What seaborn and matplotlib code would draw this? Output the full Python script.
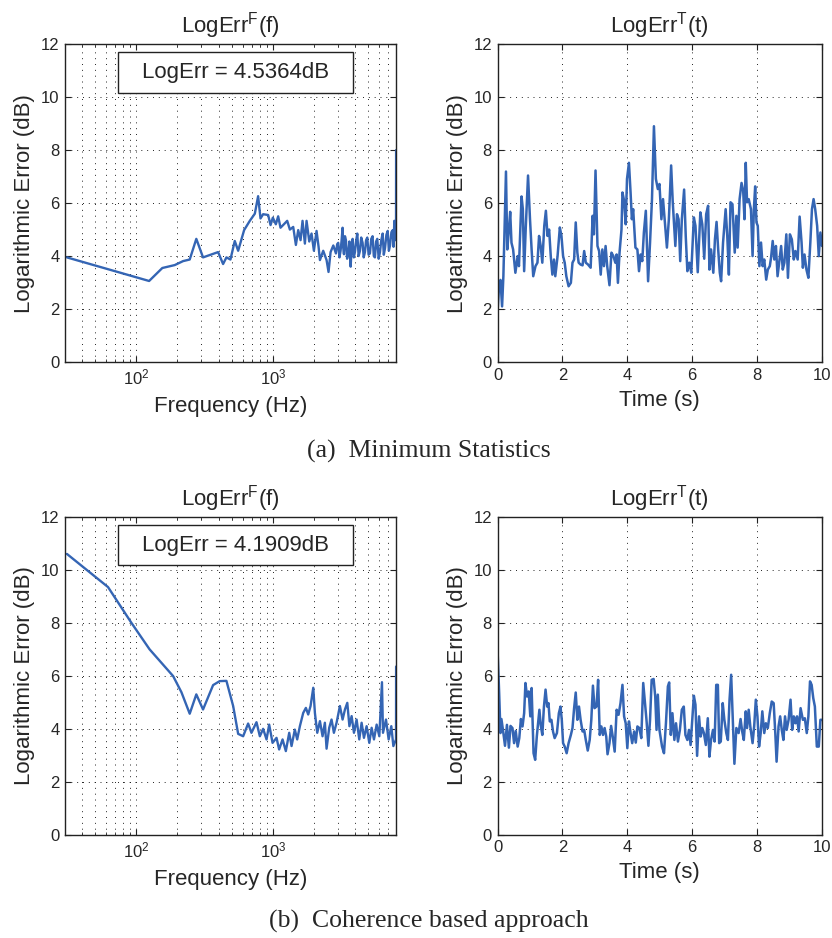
import matplotlib
matplotlib.use("Agg")
import matplotlib.pyplot as plt
import seaborn as sns
import pandas as pd
from matplotlib.patches import Rectangle
from matplotlib.ticker import LogLocator, NullFormatter, MultipleLocator

sns.set_theme(style="white")
plt.rcParams["font.family"] = ["Liberation Sans", "DejaVu Sans"]
plt.rcParams["mathtext.fontset"] = "custom"
plt.rcParams["mathtext.rm"] = "Liberation Sans"
plt.rcParams["mathtext.it"] = "Liberation Sans:italic"
plt.rcParams["mathtext.bf"] = "Liberation Sans:bold"

# (a) Minimum Statistics - LogErr^F(f)
freq_a = [31, 124, 155, 191, 220, 246, 275, 308, 397, 432,
          457, 489, 526, 557, 616, 678, 738, 780, 812, 849,
          924, 962, 1000, 1052, 1094, 1138, 1205, 1274, 1333, 1410,
          1475, 1534, 1596, 1650, 1717, 1766, 1848, 1921, 1999, 2090,
          2163, 2213, 2339, 2475, 2558, 2648, 2773,
          2898, 2960, 3014, 3075, 3135, 3190, 3243, 3280, 3319, 3375,
          3431, 3500, 3571, 3640, 3715, 3780, 3841, 3920, 3994, 4070,
          4155, 4250, 4346, 4440, 4545, 4630, 4729, 4820, 4920, 5030,
          5144, 5260, 5379, 5490, 5597, 5710, 5823, 5960, 6093, 6230,
          6376, 6500, 6634, 6790, 6942, 7080, 7220, 7390, 7554, 7660,
          7762, 7900, 7990, 8000]
err_fa = [3.95, 3.06, 3.55, 3.66, 3.81, 3.87, 4.65, 3.95, 4.15, 3.70,
          3.95, 3.87, 4.57, 4.20, 4.98, 5.33, 5.60, 6.26, 5.42, 5.58,
          5.55, 5.17, 5.45, 5.20, 5.50, 5.07, 5.20, 5.33, 5.00, 5.10,
          4.42, 4.98, 4.60, 5.33, 4.47, 5.33, 4.55, 4.85, 4.20, 4.95,
          4.35, 3.85, 4.20, 3.85, 3.40, 4.15, 4.40,
          4.10, 4.45, 4.50, 3.95, 4.20, 4.60, 5.07, 4.30, 4.07, 4.75,
          4.60, 3.90, 4.10, 4.55, 3.60, 4.35, 4.65, 3.95, 4.15, 4.55,
          4.85, 4.00, 4.20, 4.70, 4.50, 3.95, 4.15, 4.60, 4.70, 4.05,
          4.10, 4.65, 4.75, 4.00, 3.95, 4.55, 4.65, 3.90, 4.15, 4.60,
          4.85, 4.05, 4.30, 4.80, 4.95, 4.20, 4.40, 4.90, 4.98, 4.35,
          5.33, 4.60, 5.40, 8.00]

# (a) Minimum Statistics - LogErr^T(t)
time_a = [0, 0.04, 0.09, 0.14, 0.18, 0.26, 0.30, 0.35, 0.39, 0.43,
          0.48, 0.55, 0.62, 0.66, 0.74, 0.78, 0.82, 0.87, 0.94, 1.0,
          1.05, 1.10, 1.17, 1.23, 1.28, 1.33, 1.38, 1.44, 1.49, 1.54,
          1.59, 1.64, 1.69, 1.74, 1.78, 1.85, 1.92, 1.97, 2.02, 2.07,
          2.12, 2.19, 2.26, 2.31, 2.36, 2.41, 2.46, 2.50, 2.56, 2.62,
          2.67, 2.72, 2.79, 2.87, 2.93, 2.97, 3.02, 3.08, 3.13, 3.18,
          3.23, 3.28, 3.33, 3.38, 3.45, 3.51, 3.57, 3.63, 3.67, 3.71,
          3.76, 3.82, 3.85, 3.90, 3.95, 3.99, 4.05, 4.10, 4.14, 4.18,
          4.25, 4.31, 4.36, 4.41, 4.46, 4.51, 4.57, 4.64, 4.70, 4.76,
          4.82, 4.88, 4.94, 4.99, 5.05, 5.10, 5.15, 5.22, 5.28, 5.35,
          5.40, 5.48, 5.53, 5.58, 5.63, 5.68, 5.75, 5.80, 5.85, 5.91,
          5.97, 6.05, 6.10, 6.17, 6.25, 6.31, 6.37, 6.43, 6.49, 6.53,
          6.58, 6.65, 6.70, 6.75, 6.80, 6.85, 6.89, 6.95, 7.03, 7.08,
          7.13, 7.18, 7.24, 7.31, 7.36, 7.40, 7.46, 7.52, 7.57, 7.61,
          7.65, 7.69, 7.74, 7.81, 7.86, 7.90, 7.94, 7.98, 8.02, 8.07,
          8.12, 8.17, 8.22, 8.28, 8.33, 8.39, 8.43, 8.48, 8.53, 8.58,
          8.63, 8.69, 8.74, 8.79, 8.84, 8.90, 8.95, 9.01, 9.07, 9.13,
          9.18, 9.25, 9.31, 9.37, 9.41, 9.46, 9.52, 9.58, 9.64, 9.69,
          9.74, 9.79, 9.85, 9.90, 9.95, 10.0]
err_ta = [1.9, 2.73, 3.1, 2.1, 3.24, 7.19, 4.25, 5.0, 5.67, 4.5,
          4.25, 3.37, 4.0, 3.62, 6.25, 5.77, 3.43, 5.08, 7.04, 5.4,
          4.25, 3.24, 3.62, 3.75, 4.76, 4.38, 3.75, 5.14, 5.71, 4.76,
          5.0, 4.0, 3.3, 3.87, 3.24, 4.0, 5.08, 4.76, 4.0, 3.75,
          3.24, 2.86, 2.99, 3.75, 3.87, 5.27, 4.13, 3.75, 3.68, 3.65,
          4.19, 3.75, 3.68, 3.56, 5.52, 4.82, 7.23, 4.38, 4.19, 3.3,
          4.25, 3.62, 4.38, 3.62, 2.9, 4.13, 4.0, 3.75, 4.06, 2.99,
          4.13, 5.0, 6.4, 6.09, 5.2, 6.91, 7.52, 6.4, 5.39, 5.77,
          4.32, 4.25, 3.43, 4.06, 3.81, 4.89, 5.71, 3.05, 4.51, 6.15,
          8.9, 6.91, 6.53, 6.72, 5.39, 6.15, 5.39, 4.32, 5.39, 7.42,
          6.03, 4.38, 5.58, 5.39, 3.81, 5.39, 6.51, 4.76, 3.43, 3.75,
          3.37, 5.46, 5.14, 3.39, 5.65, 5.2, 3.9, 5.58, 5.9, 3.49,
          4.25, 3.37, 4.63, 5.29, 4.25, 3.37, 3.05, 4.51, 5.77, 4.76,
          3.3, 6.03, 5.96, 4.13, 5.52, 4.32, 6.15, 6.76, 6.47, 5.39,
          7.52, 6.03, 6.15, 5.77, 4.0, 5.77, 6.63, 5.27, 5.14, 3.62,
          4.51, 3.62, 3.87, 3.11, 3.49, 3.62, 3.94, 4.57, 3.87, 4.38,
          3.24, 3.87, 4.38, 3.49, 3.75, 4.82, 3.18, 4.82, 4.63, 3.87,
          4.19, 3.87, 5.49, 4.51, 3.56, 4.06, 3.49, 3.18, 4.51, 5.77,
          6.15, 5.77, 5.14, 4.0, 4.89, 4.38]

# (b) Coherence based approach - LogErr^F(f)
freq_b = [31, 62, 92, 125, 186, 214, 246, 275, 308, 365,
          408, 457, 512, 557, 606, 659, 697, 759, 803, 849,
          899, 940, 995, 1064, 1112, 1178, 1245, 1318, 1371, 1449,
          1508, 1578, 1669, 1746, 1816, 1889, 1977, 2033, 2115, 2213,
          2313, 2405, 2475, 2588, 2692, 2801, 2930, 3099, 3243, 3375,
          3511, 3638, 3777, 3929, 4108, 4297, 4470, 4650, 4864, 5088,
          5293, 5507, 5760, 6025, 6302, 6412, 6743, 7053, 7377, 7636,
          7990, 8000]
err_fb = [10.6, 9.35, 8.0, 7.0, 5.99, 5.38, 4.57, 5.3, 4.73, 5.65,
          5.8, 5.81, 4.86, 3.81, 3.72, 4.2, 3.85, 4.25, 3.72, 4.0,
          3.6, 4.16, 3.47, 3.66, 3.22, 3.6, 3.16, 3.85, 3.35, 3.97,
          3.6, 4.1, 4.6, 4.79, 4.54, 4.86, 5.55, 4.6, 3.85, 4.29,
          3.72, 4.23, 3.25, 4.04, 4.35, 3.85, 4.23, 4.86, 4.35, 4.73,
          4.98, 4.1, 4.48, 3.85, 4.35, 3.6, 4.23, 3.66, 4.1, 3.47,
          4.04, 3.6, 4.16, 3.72, 5.76, 3.85, 4.35, 3.6, 4.1, 3.35,
          3.6, 6.35]

# (b) Coherence based approach - LogErr^T(t)
time_b = [0, 0.05, 0.09, 0.12, 0.18, 0.23, 0.29, 0.35, 0.40, 0.46,
          0.51, 0.56, 0.62, 0.67, 0.72, 0.77, 0.82, 0.86, 0.91, 0.96,
          1.01, 1.05, 1.11, 1.16, 1.21, 1.25, 1.29, 1.33, 1.38, 1.43,
          1.48, 1.53, 1.57, 1.61, 1.66, 1.71, 1.76, 1.83, 1.89, 1.94,
          1.98, 2.02, 2.07, 2.13, 2.19, 2.26, 2.31, 2.36, 2.41, 2.46,
          2.51, 2.56, 2.62, 2.67, 2.72, 2.78, 2.84, 2.89, 2.94, 2.99,
          3.05, 3.10, 3.15, 3.20, 3.25, 3.30, 3.35, 3.39, 3.45, 3.50,
          3.55, 3.61, 3.67, 3.73, 3.79, 3.85, 3.90, 3.95, 4.0, 4.05,
          4.10, 4.15, 4.21, 4.26, 4.31, 4.37, 4.43, 4.49, 4.54, 4.59,
          4.65, 4.70, 4.75, 4.81, 4.86, 4.90, 4.94,
          4.99, 5.07, 5.13, 5.19, 5.25, 5.29, 5.34, 5.39, 5.45, 5.50,
          5.56, 5.62, 5.68, 5.74, 5.79, 5.85, 5.90, 5.95, 6.0, 6.05,
          6.10, 6.15, 6.21, 6.26, 6.31, 6.36, 6.42, 6.48, 6.53, 6.58,
          6.64, 6.69, 6.74, 6.79, 6.83, 6.88, 6.94, 6.99, 7.05, 7.10,
          7.15, 7.20, 7.25, 7.30, 7.36, 7.43, 7.49, 7.54, 7.59, 7.65,
          7.69, 7.74, 7.79, 7.86, 7.91, 7.96, 8.01, 8.06, 8.11, 8.16,
          8.22, 8.27, 8.33, 8.39, 8.45, 8.51, 8.56, 8.60, 8.66, 8.71,
          8.76, 8.81, 8.86, 8.91, 8.97, 9.03, 9.08, 9.13, 9.18, 9.23,
          9.28, 9.34, 9.41, 9.47, 9.53, 9.58, 9.63, 9.68, 9.73, 9.78,
          9.84, 9.90, 9.95, 10.0]
err_tb = [6.99, 5.35, 3.84, 4.37, 3.84, 3.36, 4.15, 3.29, 4.11, 4.03,
          3.46, 3.92, 3.33, 3.65, 4.37, 4.09, 4.59, 5.73, 5.22, 5.41,
          4.47, 5.54, 3.08, 2.83, 3.71, 4.21, 4.72, 4.15, 3.77, 4.84,
          5.48, 4.84, 4.97, 4.28, 4.34, 3.9, 3.65, 3.84, 4.59, 4.84,
          4.34, 3.46, 3.33, 3.08, 3.46, 3.77, 4.03, 4.78, 5.37, 4.34,
          4.84, 4.34, 3.9, 3.96, 3.58, 3.18, 3.58, 4.34, 5.63, 4.78,
          4.84, 5.85, 3.77, 4.09, 3.77, 4.03, 3.71, 3.04, 3.46, 4.11,
          3.71, 3.14, 4.72, 4.53, 4.97, 5.66, 4.47, 4.21, 3.27, 4.28,
          3.84, 3.46, 3.9, 3.48, 4.09, 4.03, 3.65, 5.73, 5.03, 4.34,
          3.36, 4.34, 5.85, 5.88, 5.22, 3.96, 5.29,
          3.96, 3.33, 3.08, 4.21, 5.6, 5.75, 3.77, 4.59, 3.58, 4.21,
          3.52, 3.96, 4.72, 4.84, 3.77, 3.58, 3.96, 3.39, 4.34, 5.25,
          4.91, 2.98, 4.47, 3.71, 4.03, 3.84, 3.39, 4.4, 2.95, 3.58,
          3.96, 3.52, 5.66, 5.66, 3.46, 3.52, 4.97, 4.34, 3.84, 3.58,
          5.1, 6.04, 4.34, 2.68, 4.03, 3.84, 4.37, 3.9, 3.58, 4.66,
          4.03, 4.72, 4.09, 3.46, 4.11, 5.1, 4.47, 3.33, 3.84, 4.66,
          3.84, 4.21, 4.03, 4.59, 5.03, 4.97, 3.84, 2.76, 4.09, 4.47,
          3.96, 3.58, 4.47, 3.96, 4.34, 5.1, 3.96, 4.47, 4.21, 4.47,
          3.9, 4.78, 4.34, 4.4, 3.84, 4.47, 5.79, 5.66, 5.16, 4.84,
          3.33, 3.33, 4.34, 4.34]

mean_err = ["LogErr = 4.5364dB", "LogErr = 4.1909dB"]
captions = ["(a)  Minimum Statistics", "(b)  Coherence based approach"]

line_color = "#3465b4"
grid_style = dict(linestyle=(0, (1, 5)), color="#222222", linewidth=0.7)

fig = plt.figure(figsize=(8.32, 9.38), dpi=100)


def style_axes(ax, log=False):
    ax.set_ylim(0, 12)
    ax.yaxis.set_major_locator(MultipleLocator(2))
    if log:
        ax.set_xscale("log")
        ax.set_xlim(30, 8000)
        ax.xaxis.set_major_locator(LogLocator(base=10))
        ax.xaxis.set_minor_locator(LogLocator(base=10, subs=range(2, 10)))
        ax.xaxis.set_minor_formatter(NullFormatter())
        ax.grid(True, which="both", axis="x", **grid_style)
        ax.grid(True, which="major", axis="y", **grid_style)
        ax.set_xlabel("Frequency (Hz)", fontsize=16, labelpad=6)
        ax.set_title(r"LogErr$^{\mathrm{F}}$(f)", fontsize=16, pad=8)
    else:
        ax.set_xlim(0, 10)
        ax.xaxis.set_major_locator(MultipleLocator(2))
        ax.grid(True, which="major", **grid_style)
        ax.set_xlabel("Time (s)", fontsize=16, labelpad=5)
        ax.set_title(r"LogErr$^{\mathrm{T}}$(t)", fontsize=16, pad=8)
    ax.set_ylabel("Logarithmic Error (dB)", fontsize=16, labelpad=4)
    ax.tick_params(which="both", direction="in", top=True, right=True,
                   bottom=True, left=True, labelsize=12, pad=4,
                   color="#222222")
    ax.tick_params(which="major", length=4, width=0.8)
    ax.tick_params(which="minor", length=2.5, width=0.6)
    for sp in ax.spines.values():
        sp.set_color("#222222")
        sp.set_linewidth(1.0)


def add_box(ax, text):
    ax.add_patch(Rectangle((0.16, 0.847), 0.71, 0.127, transform=ax.transAxes,
                           facecolor="white", edgecolor="#222222",
                           linewidth=1.0, zorder=3))
    ax.text(0.515, 0.91, text, transform=ax.transAxes, ha="center",
            va="center", fontsize=16, zorder=4)


panels = [
    (freq_a, err_fa, time_a, err_ta, 0.614, 0),
    (freq_b, err_fb, time_b, err_tb, 0.110, 1),
]

for freq, err_f, time, err_t, bottom, i in panels:
    ax_f = fig.add_axes([0.0781, bottom, 0.398, 0.339])
    df_f = pd.DataFrame({"freq": freq, "err": err_f})
    sns.lineplot(data=df_f, x="freq", y="err", ax=ax_f, color=line_color,
                 linewidth=1.7, sort=False, estimator=None)
    style_axes(ax_f, log=True)
    add_box(ax_f, mean_err[i])

    ax_t = fig.add_axes([0.598, bottom, 0.390, 0.339])
    df_t = pd.DataFrame({"time": time, "err": err_t})
    sns.lineplot(data=df_t, x="time", y="err", ax=ax_t, color=line_color,
                 linewidth=1.8, sort=False, estimator=None)
    style_axes(ax_t, log=False)

fig.text(0.515, 0.519, captions[0], ha="center", va="center",
         fontsize=18.5, family="Liberation Serif")
fig.text(0.515, 0.018, captions[1], ha="center", va="center",
         fontsize=18.5, family="Liberation Serif")

fig.savefig("out.png", dpi=100)
